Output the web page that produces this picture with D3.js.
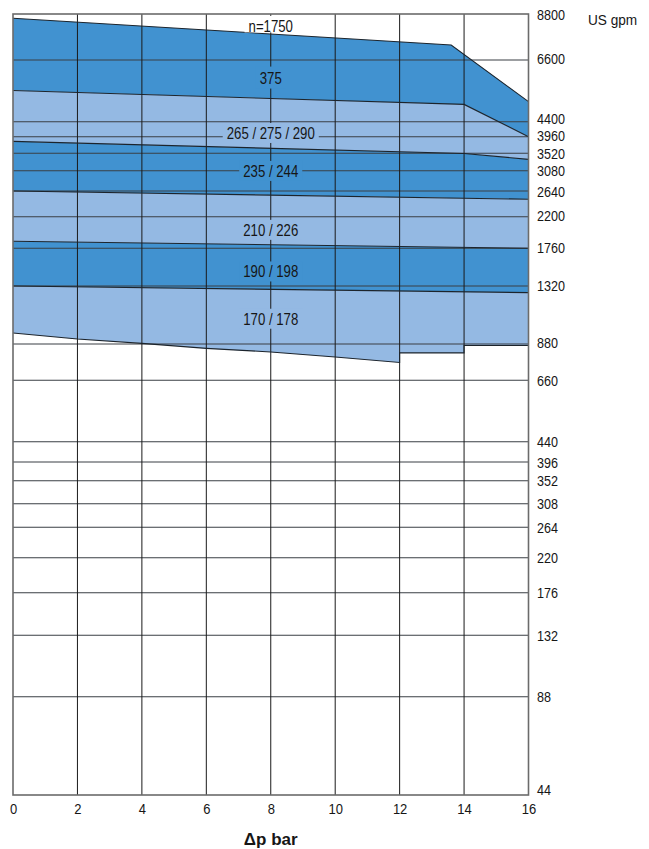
<!DOCTYPE html>
<html>
<head>
<meta charset="utf-8">
<script src="https://cdn.jsdelivr.net/npm/d3@7"></script>
<style>
  html, body { margin: 0; padding: 0; background: #fff; }
  svg { display: block; }
  text { font-family: "Liberation Sans", Arial, Helvetica, sans-serif; fill: #161616; }
</style>
</head>
<body>
<svg id="chart" width="649" height="849"></svg>
<script>
// ---------------- DATA ----------------
const xTicks = [0, 2, 4, 6, 8, 10, 12, 14, 16];
const yTicks = [44, 88, 132, 176, 220, 264, 308, 352, 396, 440, 660, 880, 1320, 1760, 2200, 2640, 3080, 3520, 3960, 4400, 6600, 8800];

// boundary lines of the bands: [Δp bar, US gpm]
const line1750Top   = [[0, 8570], [13.6, 7250], [16, 5020]];
const line375Bottom = [[0, 5400], [14, 4930], [16, 3960]];
const line290Bottom = [[0, 3830], [14, 3515], [16, 3360]];
const line244Bottom = [[0, 2640], [16, 2490]];
const line226Bottom = [[0, 1850], [16, 1760]];
const line198Bottom = [[0, 1320], [16, 1260]];
const line178Bottom = [[0, 950], [2, 911], [4, 884], [6, 850], [8, 826], [10, 794], [12, 760], [12, 820], [14, 820], [14, 870], [16, 870]];

const bandLabels = ["n=1750", "375", "265 / 275 / 290", "235 / 244", "210 / 226", "190 / 198", "170 / 178"];
const labelBar = [8, 8, 8, 8, 8, 8, 8];
const labelGpm = [8170, 5880, 4065, 3075, 2005, 1475, 1050];

// ---------------- LAYOUT / STYLE ----------------
const DARK = "#4192d0", LIGHT = "#94b9e3";
const plotL = 13, plotR = 528.5, plotT = 14, plotB = 795;
const NARROW = 0.8; // horizontal squeeze to imitate the condensed typeface
const TICK_NARROW = 0.84;
// pixel calibration of the (hand-drawn) logarithmic axis, one per tick
const yTickPx = [795, 696.7, 635.3, 592.7, 557.7, 527.3, 503.7, 480.7, 462, 441.7, 380.3, 344, 286, 248.3, 216.7, 191, 170.7, 153.3, 136.7, 121.7, 60, 14];
const yLabelShift = { 44: -6, 4400: -3.7, 3960: -1.2, 6600: -1.5, 2200: -1.5, 1760: -1.5, 880: -1.5, 1320: -1 };
const labelBgTop = [10, 11, 10, 10, 10, 10, 10];
const labelBgBottom = [6.5, 11, 10, 10, 10, 10, 10];

const svg = d3.select("#chart");
const x = d3.scaleLinear().domain([0, 16]).range([plotL, plotR]);
const y = d3.scaleLog().domain(yTicks).range(yTickPx);

const bands = [
  { upper: line1750Top,   lower: line375Bottom, fill: DARK },
  { upper: line375Bottom, lower: line290Bottom, fill: LIGHT },
  { upper: line290Bottom, lower: line244Bottom, fill: DARK },
  { upper: line244Bottom, lower: line226Bottom, fill: LIGHT },
  { upper: line226Bottom, lower: line198Bottom, fill: DARK },
  { upper: line198Bottom, lower: line178Bottom, fill: LIGHT }
];
const labelFill = ["#fff", DARK, LIGHT, DARK, LIGHT, DARK, LIGHT];

const line = d3.line().x(d => x(d[0])).y(d => y(d[1]));

// bands
svg.append("g").selectAll("path").data(bands).join("path")
  .attr("d", b => line(b.upper.concat(b.lower.slice().reverse())) + "Z")
  .attr("fill", b => b.fill)
  .attr("stroke", "none");

// horizontal gridlines
svg.append("g").selectAll("line").data(yTicks.filter(v => v !== 44 && v !== 8800)).join("line")
  .attr("x1", plotL).attr("x2", plotR)
  .attr("y1", d => y(d)).attr("y2", d => y(d))
  .attr("stroke", "#3a3f45").attr("stroke-width", 1.1);

// vertical gridlines
svg.append("g").selectAll("line").data(xTicks.filter(v => v !== 0 && v !== 16)).join("line")
  .attr("x1", d => x(d)).attr("x2", d => x(d))
  .attr("y1", plotT).attr("y2", plotB)
  .attr("stroke", "#1a1a1a").attr("stroke-width", 1);

// band boundary lines
svg.append("g").selectAll("path")
  .data([line1750Top, line375Bottom, line290Bottom, line244Bottom, line226Bottom, line198Bottom, line178Bottom])
  .join("path")
  .attr("d", d => line(d))
  .attr("fill", "none")
  .attr("stroke", "#1c242c").attr("stroke-width", 1.1);

// band labels with backgrounds
const lg = svg.append("g");
bandLabels.forEach((t, i) => {
  const cx = x(labelBar[i]), cy = y(labelGpm[i]);
  const g = lg.append("g");
  const rect = g.append("rect");
  const txt = g.append("text")
    .attr("transform", `translate(${cx},${cy}) scale(${NARROW},1)`)
    .attr("dy", "0.36em")
    .attr("text-anchor", "middle")
    .attr("font-size", 16.5)
    .text(t);
  const w = txt.node().getBBox().width * NARROW;
  rect.attr("x", cx - w / 2 - 4).attr("width", w + 8)
    .attr("y", cy - labelBgTop[i]).attr("height", labelBgTop[i] + labelBgBottom[i])
    .attr("fill", labelFill[i]);
});

// frame
svg.append("rect")
  .attr("x", plotL).attr("y", plotT)
  .attr("width", plotR - plotL).attr("height", plotB - plotT)
  .attr("fill", "none").attr("stroke", "#6b6b6b").attr("stroke-width", 1.6);

// y axis (right)
const yAxis = svg.append("g")
  .attr("transform", `translate(${plotR},0)`)
  .call(d3.axisRight(y).tickValues(yTicks).tickSize(0).tickPadding(8).tickFormat(d3.format("d")));
yAxis.select(".domain").remove();
yAxis.selectAll("text")
  .attr("font-size", 15)
  .attr("font-family", null)
  .attr("x", 0)
  .attr("dy", "0.35em")
  .attr("transform", d => `translate(8.5,${yLabelShift[d] || 0}) scale(${TICK_NARROW},1)`);

// x axis (bottom)
const xAxis = svg.append("g")
  .attr("transform", `translate(0,${plotB})`)
  .call(d3.axisBottom(x).tickValues(xTicks).tickSize(0).tickPadding(9).tickFormat(d3.format("d")));
xAxis.select(".domain").remove();
xAxis.selectAll("text")
  .attr("font-size", 15.5)
  .attr("font-family", null)
  .attr("y", 0)
  .attr("transform", `translate(0,8) scale(${TICK_NARROW},1)`);

// axis titles
svg.append("text")
  .attr("transform", `translate(588,25) scale(0.88,1)`)
  .attr("font-size", 15.5)
  .text("US gpm");

svg.append("text")
  .attr("x", x(8)).attr("y", 845)
  .attr("text-anchor", "middle")
  .attr("font-size", 17)
  .attr("font-weight", "bold")
  .text("\u0394p bar");
</script>
</body>
</html>
